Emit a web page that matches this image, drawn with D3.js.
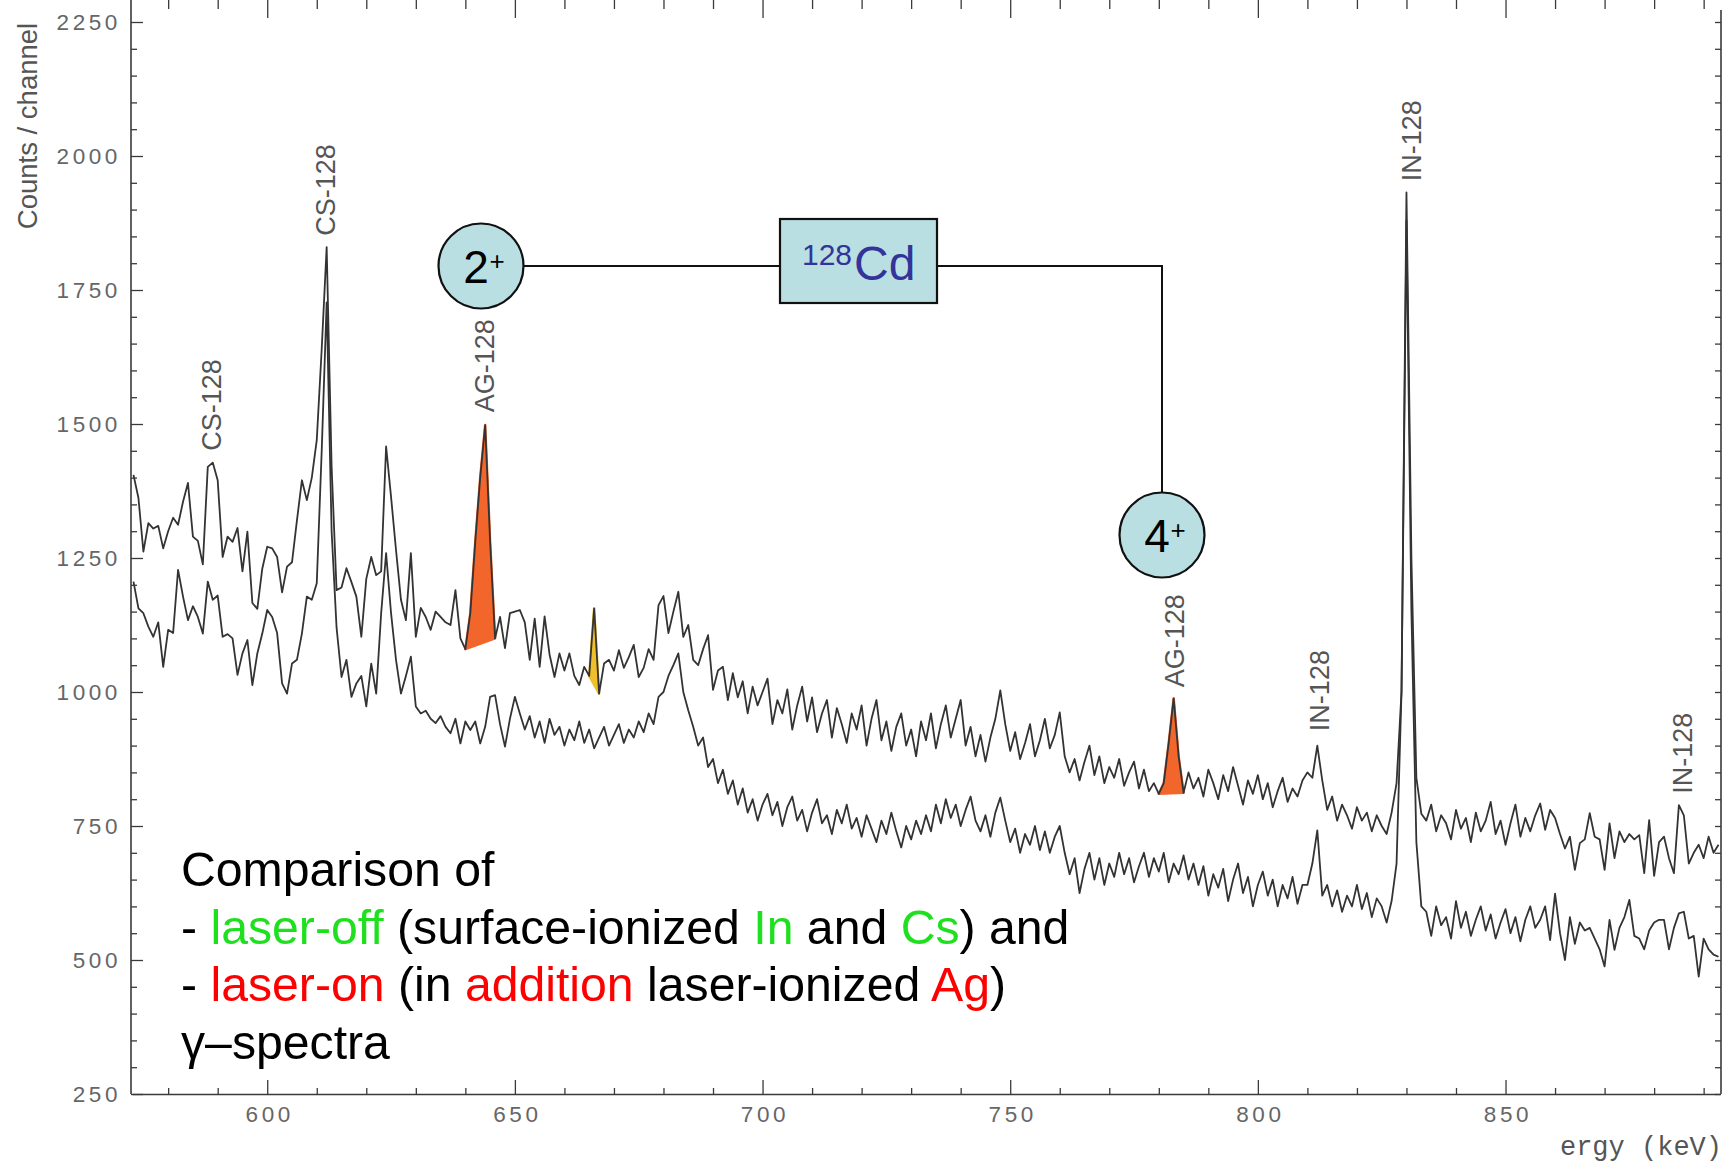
<!DOCTYPE html>
<html><head><meta charset="utf-8">
<script src="https://cdn.jsdelivr.net/npm/d3@7"></script>
<style>body{margin:0;background:#fff}svg{display:block}text{white-space:pre}</style>
</head><body>
<svg id="c" width="1724" height="1162"></svg>
<script>
// ---------------- data ----------------
const energyStart = 573;   // keV, first channel
const energyStep = 1;      // keV per value
// laser-on spectrum (upper trace), counts/channel, 573..893 keV
const laserOn = [
 1405,1362,1262,1315,1305,1310,1268,
 1300,1325,1312,1355,1390,1290,1282,1238,1420,1428,
 1395,1252,1290,1280,1306,1225,1299,1166,1155,1230,
 1271,1268,1252,1186,1234,1242,1320,1395,1358,1400,
 1470,1640,1830,1420,1190,1195,1231,1205,1178,1103,
 1211,1252,1218,1225,1458,1364,1265,1172,1134,1259,
 1103,1157,1140,1116,1150,1140,1130,1125,1190,1100,
 1080,1147,1280,1400,1498,1280,1100,1140,1082,1147,
 1150,1153,1130,1060,1137,1047,1141,1070,1028,1072,
 1040,1072,1030,1013,1047,1030,1156,997,1053,1060,
 1040,1078,1045,1065,1088,1028,1045,1080,1060,1162,
 1179,1110,1150,1187,1103,1125,1060,1050,1080,1106,
 1004,1040,1047,985,1035,990,1020,960,1010,975,
 1000,1025,940,985,960,1005,930,975,1010,945,
 990,925,960,985,915,970,940,905,960,930,
 975,900,950,985,910,945,890,935,960,900,
 930,880,945,910,960,895,940,975,915,950,
 985,900,935,880,920,870,915,950,1003,940,
 890,925,875,905,940,880,910,950,895,920,
 962,880,850,875,835,870,900,845,880,830,
 860,840,875,825,850,870,820,855,815,830,
 810,830,905,988,880,812,850,820,840,805,
 855,830,800,845,815,860,825,790,835,810,
 845,800,830,785,815,840,795,820,805,835,
 850,840,900,835,780,805,760,790,770,745,
 785,760,775,740,770,750,735,775,830,1000,
 1932,1250,840,773,760,790,740,770,755,725,
 780,745,765,720,775,740,760,795,735,760,
 715,755,790,730,765,740,770,792,743,780,
 765,735,708,730,668,718,725,774,730,725,
 668,755,690,740,720,735,725,733,662,761,
 657,720,730,690,662,789,770,680,700,715,
 690,730,700,715
];
// laser-off spectrum (lower trace), counts/channel, 573..893 keV
const laserOff = [
 1206,1156,1147,1122,1103,1130,1047,
 1116,1110,1228,1178,1134,1160,1140,1109,1206,1172,
 1180,1103,1108,1100,1032,1072,1097,1013,1072,1109,
 1153,1140,1110,1016,997,1053,1060,1109,1178,1172,
 1203,1450,1727,1300,1120,1028,1060,991,1016,1030,
 973,1053,997,1147,1259,1147,1060,997,1030,1066,
 973,960,965,950,942,955,935,923,950,904,
 945,929,945,904,935,991,994,940,898,950,
 991,960,930,955,915,945,905,950,920,935,
 900,930,910,945,905,930,895,915,935,900,
 920,940,905,930,915,945,925,960,940,991,
 1000,1030,1050,1072,1000,966,935,900,915,860,
 875,830,855,810,835,790,820,775,800,760,
 790,810,770,795,750,785,805,760,780,740,
 775,800,755,770,735,780,755,790,745,765,
 730,770,745,720,760,735,775,740,710,750,
 725,760,735,770,740,790,755,800,765,790,
 750,780,805,760,740,770,730,775,803,760,
 720,745,700,735,715,750,705,740,700,730,
 750,700,660,690,625,670,700,650,690,640,
 680,655,700,660,690,645,675,700,655,690,
 665,700,645,680,660,695,650,680,640,675,
 620,660,635,670,610,650,680,625,655,600,
 640,665,620,650,600,640,615,655,605,640,
 640,680,742,620,640,600,630,590,620,600,
 640,595,625,580,615,600,570,610,680,1000,
 1880,1150,720,600,590,545,600,565,580,540,
 610,560,590,545,575,600,555,585,540,570,
 595,550,580,535,575,600,560,575,600,537,
 624,550,500,580,530,570,555,560,540,520,
 488,575,519,560,580,612,545,540,520,555,
 570,575,575,520,560,587,590,540,545,469,
 540,520,510,506
];
const xMajorTicks = [600, 650, 700, 750, 800, 850];
const yMajorTicks = [250, 500, 750, 1000, 1250, 1500, 1750, 2000, 2250];
// highlighted peaks in the laser-on trace: [from keV, to keV]
const agPeaks = [[640, 646], [780, 785]];
const unknownPeaks = [[665, 667]];
// peak labels: text, energy (keV), counts at label start
const peakLabelText = ["CS-128", "CS-128", "AG-128", "AG-128", "IN-128", "IN-128", "IN-128"];
const peakLabelEnergy = [588.7, 611.7, 643.8, 783.1, 812.4, 830.9, 885.6];
const peakLabelCounts = [1450, 1851, 1522, 1009, 927, 1953, 810];
const xAxisTitle = "ergy (keV)";
const yAxisTitle = "Counts / channel";
const noteLines = [
  [["Comparison of", "k"]],
  [["- ", "k"], ["laser-off", "g"], [" (surface-ionized ", "k"], ["In", "g"], [" and ", "k"], ["Cs", "g"], [") and", "k"]],
  [["- ", "k"], ["laser-on", "r"], [" (in ", "k"], ["addition", "r"], [" laser-ionized ", "k"], ["Ag", "r"], [")", "k"]],
  [["\u03b3\u2013spectra", "k"]]
];
const levelLabels = ["2", "4"];
const nucleusMass = "128", nucleusName = "Cd";

// ---------------- drawing ----------------
const svg = d3.select("#c");
const x = d3.scaleLinear().domain([572.7, 893.3]).range([132, 1720]);
const y = d3.scaleLinear().domain([250, 2250]).range([1094, 22]);
const axisCol = "#3a3a3a", labCol = "#666";
const numFont = "'Liberation Sans', Arial, sans-serif";

const onPts = laserOn.map((v, i) => ({e: energyStart + i * energyStep, v}));
const offPts = laserOff.map((v, i) => ({e: energyStart + i * energyStep, v}));

svg.append("defs").append("clipPath").attr("id", "plot")
  .append("rect").attr("x", 132).attr("y", 0).attr("width", 1589).attr("height", 1094);

const line = d3.line().x(d => x(d.e)).y(d => y(d.v));
const plot = svg.append("g").attr("clip-path", "url(#plot)");

function peakFill(range, color) {
  const pts = onPts.filter(d => d.e >= range[0] && d.e <= range[1]);
  plot.append("path").attr("d", line(pts) + "Z").attr("fill", color).attr("stroke", color)
    .attr("stroke-width", 2.5).attr("stroke-linejoin", "round");
}
agPeaks.forEach(r => peakFill(r, "#f2662c"));
unknownPeaks.forEach(r => peakFill(r, "#efbf2c"));

[offPts, onPts].forEach(p => plot.append("path").attr("d", line(p))
  .attr("fill", "none").attr("stroke", "#333").attr("stroke-width", 1.8)
  .attr("stroke-linejoin", "round"));

// axes
function styleAxis(g) {
  g.selectAll("line").attr("stroke", axisCol).attr("stroke-width", 1.3);
  g.selectAll("path.domain").attr("stroke", axisCol).attr("stroke-width", 1.5);
  g.selectAll("text").attr("font-family", numFont).attr("font-size", 22.5)
    .attr("fill", labCol).attr("letter-spacing", 3.6);
}
const xMinor = d3.range(580, 891, 10).filter(v => v % 50 !== 0);
const yMinor = d3.range(300, 2300, 50).filter(v => v % 250 !== 0);

svg.append("g").attr("transform", "translate(0,1094)")
  .call(d3.axisBottom(x).tickValues(xMajorTicks).tickSize(-14).tickSizeOuter(0).tickPadding(12).tickFormat(d3.format("d")))
  .call(styleAxis).call(g => g.selectAll("text").attr("dx", 2));
svg.append("g").attr("transform", "translate(0,1094)")
  .call(d3.axisBottom(x).tickValues(xMinor).tickSize(-6).tickSizeOuter(0).tickFormat(""))
  .call(styleAxis).call(g => g.select(".domain").remove());
svg.append("g").attr("transform", "translate(0,0)")
  .call(d3.axisBottom(x).tickValues(xMajorTicks).tickSize(18).tickSizeOuter(0).tickFormat(""))
  .call(styleAxis).call(g => g.select(".domain").remove());
svg.append("g").attr("transform", "translate(0,0)")
  .call(d3.axisBottom(x).tickValues(xMinor).tickSize(9).tickSizeOuter(0).tickFormat(""))
  .call(styleAxis).call(g => g.select(".domain").remove());

svg.append("g").attr("transform", "translate(131,0)")
  .call(d3.axisLeft(y).tickValues(yMajorTicks).tickSize(-12).tickSizeOuter(0).tickPadding(10).tickFormat(d3.format("d")))
  .call(styleAxis).call(g => g.select(".domain").remove());
svg.append("g").attr("transform", "translate(131,0)")
  .call(d3.axisLeft(y).tickValues(yMinor).tickSize(-6).tickSizeOuter(0).tickFormat(""))
  .call(styleAxis).call(g => g.select(".domain").remove());
svg.append("g").attr("transform", "translate(1721,0)")
  .call(d3.axisRight(y).tickValues(yMajorTicks.concat(yMinor)).tickSize(-6).tickSizeOuter(0).tickFormat(""))
  .call(styleAxis).call(g => g.select(".domain").remove());
svg.append("line").attr("x1", 131).attr("x2", 131).attr("y1", 0).attr("y2", 1094)
  .attr("stroke", axisCol).attr("stroke-width", 1.6);
svg.append("line").attr("x1", 1721).attr("x2", 1721).attr("y1", 10).attr("y2", 1094)
  .attr("stroke", axisCol).attr("stroke-width", 1.6);

// axis titles
svg.append("text").attr("x", 1722).attr("y", 1155).attr("text-anchor", "end")
  .attr("font-family", "'Liberation Mono', 'Courier New', monospace").attr("font-size", 27)
  .attr("fill", "#555").text(xAxisTitle);
svg.append("text").attr("transform", "translate(27,126) rotate(-90)").attr("text-anchor", "middle")
  .attr("dominant-baseline", "central").attr("font-family", numFont).attr("font-size", 27.5)
  .attr("fill", "#555").text(yAxisTitle);

// peak labels
peakLabelText.forEach((t, i) => {
  svg.append("text")
    .attr("transform", `translate(${x(peakLabelEnergy[i])},${y(peakLabelCounts[i])}) rotate(-90)`)
    .attr("dy", "0.36em").attr("font-family", numFont).attr("font-size", 27)
    .attr("fill", "#555").text(t);
});

// level scheme annotation
const boxFill = "#b9dfe3";
const ann = svg.append("g");
ann.append("path").attr("d", "M524,266H780M937,266H1162V493").attr("fill", "none")
  .attr("stroke", "#111").attr("stroke-width", 2);
ann.append("rect").attr("x", 780).attr("y", 219).attr("width", 157).attr("height", 84)
  .attr("fill", boxFill).attr("stroke", "#111").attr("stroke-width", 2.2);
ann.append("text").attr("x", 802).attr("y", 265).attr("font-family", numFont).attr("font-size", 30)
  .attr("fill", "#333399").text(nucleusMass);
ann.append("text").attr("x", 854).attr("y", 280).attr("font-family", numFont).attr("font-size", 48)
  .attr("fill", "#333399").text(nucleusName);
[[481, 266], [1162, 535]].forEach((c, i) => {
  ann.append("circle").attr("cx", c[0]).attr("cy", c[1]).attr("r", 42.5)
    .attr("fill", boxFill).attr("stroke", "#111").attr("stroke-width", 2.2);
  ann.append("text").attr("x", c[0] - 5).attr("y", c[1] + 17).attr("text-anchor", "middle")
    .attr("font-family", numFont).attr("font-size", 46).attr("fill", "#000").text(levelLabels[i]);
  ann.append("text").attr("x", c[0] + 16).attr("y", c[1] + 4).attr("text-anchor", "middle")
    .attr("font-family", numFont).attr("font-size", 26).attr("fill", "#000").text("+");
});

// comparison note
const noteCol = {k: "#000", g: "#1fe01f", r: "#ff0000"};
noteLines.forEach((ln, i) => {
  const t = svg.append("text").attr("x", 181).attr("y", 886 + i * 57.5)
    .attr("font-family", numFont).attr("font-size", 48.2);
  ln.forEach(s => t.append("tspan").attr("fill", noteCol[s[1]]).text(s[0]));
});
</script>
</body></html>
